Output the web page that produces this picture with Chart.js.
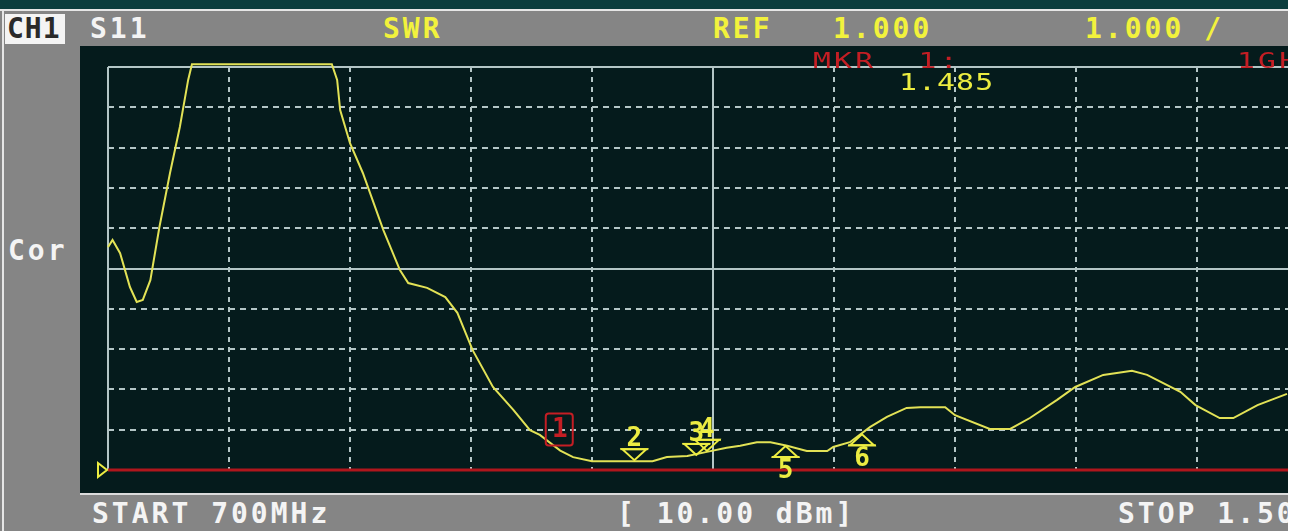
<!DOCTYPE html>
<html>
<head>
<meta charset="utf-8">
<script src="https://cdn.jsdelivr.net/npm/chart.js@4.4.0/dist/chart.umd.min.js"></script>
<style>
    body { margin: 0; width: 1295px; height: 531px; background: #fff; overflow: hidden; position: relative; }
    #screen { position: absolute; left: 0; top: 0; width: 1288px; height: 531px; background: #858585; overflow: hidden; }
    #topStrip { position: absolute; left: 0; top: 0; width: 1288px; height: 9px; background: #0b3d3d; }
    #topLine { position: absolute; left: 0; top: 9px; width: 1288px; height: 2px; background: #e6e6e6; }
    #leftLine { position: absolute; left: 2px; top: 11px; width: 2px; height: 520px; background: #e6e6e6; }
    #panel { position: absolute; left: 80px; top: 46px; width: 1208px; height: 447px; background: #051b1c; overflow: hidden; }
    #panel canvas { position: absolute; left: 0; top: 0; }
    #bottomLine { position: absolute; left: 80px; top: 493px; width: 1208px; height: 2px; background: #dcdcdc; }
    #chBox { position: absolute; left: 5px; top: 14px; width: 60px; height: 30px; background: #f4f4f4; }
    .t { position: absolute; font: bold 28px/28px "DejaVu Sans Mono", monospace; letter-spacing: 3px; white-space: pre; }
    .w { color: #f4f4f4; }
    .y { color: #f2f23c; }
    .mk { position: absolute; font: 22px/22px "DejaVu Sans Mono", monospace; letter-spacing: 2.4px; white-space: pre; transform: scaleX(1.35); transform-origin: left top; }
</style>
</head>
<body>
<div id="screen">
    <div id="topStrip"></div>
    <div id="topLine"></div>
    <div id="leftLine"></div>
    <div id="chBox"></div>
    <div class="t" style="left:7px;top:15px;color:#2a2a2a;letter-spacing:1px">CH1</div>
    <div class="t w" style="left:90px;top:15px">S11</div>
    <div class="t y" style="left:383px;top:15px">SWR</div>
    <div class="t y" style="left:713px;top:15px">REF</div>
    <div class="t y" style="left:833px;top:15px">1.000</div>
    <div class="t y" style="left:1085px;top:15px">1.000 /</div>
    <div class="t w" style="left:8px;top:237px">Cor</div>
    <div id="panel">
        <canvas id="swrChart" width="1260" height="447"></canvas>
        <div class="mk" style="left:733px;top:4px;color:#c41e24">MKR  1:</div>
        <div class="mk" style="left:819px;top:25px;color:#ecec40;font-size:23px;line-height:23px;letter-spacing:0.8px;transform:scaleX(1.3)">1.485</div>
        <div class="mk" style="left:1157px;top:4px;color:#c41e24">1GHz</div>
    </div>
    <div id="bottomLine"></div>
    <div class="t w" style="left:92px;top:500px">START 700MHz</div>
    <div class="t w" style="left:617px;top:500px">[ 10.00 dBm]</div>
    <div class="t w" style="left:1118px;top:500px">STOP 1.50GHz</div>
</div>
<script>
// trace (MHz, SWR)
const freqMHz = [700, 703, 708, 714.5, 719, 723, 728, 734, 741, 747.5,
    753, 755.5, 848, 851.5, 853.5, 860, 868.5, 882, 893, 898.5,
    911, 923, 931, 941, 954.5, 968, 979, 985.5, 999, 1007.5,
    1020, 1060, 1069.5, 1083, 1096, 1109, 1118, 1129, 1138, 1149,
    1162, 1175.5, 1179.5, 1190.5, 1204, 1215, 1228, 1237, 1253.5, 1260,
    1283, 1296.5, 1309.5, 1327.5, 1339.5, 1358, 1377, 1387, 1409, 1419,
    1435, 1444, 1460, 1479.5];
const swr = [6.53, 6.71, 6.38, 5.54, 5.17, 5.22, 5.71, 7.03, 8.37, 9.51,
    10.68, 11.07, 11.07, 10.68, 9.93, 9.11, 8.37, 6.96, 5.96, 5.64,
    5.52, 5.29, 4.90, 3.98, 3.06, 2.49, 1.99, 1.87, 1.48, 1.32,
    1.22, 1.22, 1.32, 1.35, 1.45, 1.55, 1.60, 1.69, 1.69, 1.60,
    1.47, 1.47, 1.57, 1.69, 2.07, 2.32, 2.54, 2.56, 2.56, 2.36,
    2.02, 2.02, 2.29, 2.74, 3.06, 3.36, 3.46, 3.36, 2.94, 2.61,
    2.29, 2.29, 2.61, 2.89];

// markers
const markerNames = ['1', '2', '3', '4', '5', '6'];
const markerFreq = [1000, 1048, 1089, 1096, 1148, 1198.5];
const markerSwr = [1.485, 1.22, 1.35, 1.45, 1.62, 1.91];
const markerStyle = ['box', 'down', 'down', 'down', 'up', 'up'];

// graticule: 80 MHz/div, 1.000/div, REF 1.000
const xTicks = [700, 780, 860, 940, 1020, 1100, 1180, 1260, 1340, 1420, 1500];
const yTicks = [1, 2, 3, 4, 5, 6, 7, 8, 9, 10, 11];
const REF_VALUE = 1;

const GRID_COLOR = '#b4c6c6';
const YELLOW = '#ecec42';
const RED = '#c41e24';

const graticule = {
    id: 'graticule',
    beforeDatasetsDraw(chart) {
        const { ctx, chartArea: a, scales: { x, y } } = chart;
        ctx.save();
        ctx.strokeStyle = GRID_COLOR;
        ctx.lineWidth = 2;
        xTicks.forEach((v, i) => {
            const px = Math.round(x.getPixelForValue(v));
            const solid = i === 0 || i === 5;
            ctx.setLineDash(solid ? [] : [5, 5]);
            ctx.beginPath();
            ctx.moveTo(px, a.top);
            ctx.lineTo(px, a.bottom);
            ctx.stroke();
        });
        yTicks.forEach((v, i) => {
            if (v === REF_VALUE) return;
            const py = Math.round(y.getPixelForValue(v));
            const solid = i === yTicks.length - 1 || i === 5;
            ctx.setLineDash(solid ? [] : [6, 5]);
            ctx.beginPath();
            ctx.moveTo(a.left, py);
            ctx.lineTo(a.right, py);
            ctx.stroke();
        });
        // reference line + reference arrow
        const ry = Math.round(y.getPixelForValue(REF_VALUE));
        ctx.setLineDash([]);
        ctx.strokeStyle = '#b0161c';
        ctx.lineWidth = 3;
        ctx.beginPath();
        ctx.moveTo(a.left, ry);
        ctx.lineTo(a.right, ry);
        ctx.stroke();
        ctx.strokeStyle = YELLOW;
        ctx.lineWidth = 2;
        ctx.beginPath();
        ctx.moveTo(a.left - 10, ry - 7);
        ctx.lineTo(a.left - 1, ry);
        ctx.lineTo(a.left - 10, ry + 7);
        ctx.closePath();
        ctx.stroke();
        ctx.restore();
    }
};

const markers = {
    id: 'markers',
    afterDatasetsDraw(chart) {
        const { ctx, scales: { x, y } } = chart;
        ctx.save();
        ctx.lineWidth = 2;
        ctx.textAlign = 'center';
        ctx.font = 'bold 26px "DejaVu Sans Mono", monospace';
        markerNames.forEach((name, i) => {
            const px = x.getPixelForValue(markerFreq[i]);
            const py = y.getPixelForValue(markerSwr[i]);
            const style = markerStyle[i];
            if (style === 'box') {
                ctx.strokeStyle = RED;
                ctx.fillStyle = RED;
                ctx.beginPath();
                ctx.roundRect(px - 16, py - 37, 27, 32, 3);
                ctx.stroke();
                ctx.textBaseline = 'middle';
                ctx.fillText(name, px - 2, py - 20);
                return;
            }
            ctx.strokeStyle = YELLOW;
            ctx.fillStyle = YELLOW;
            const dir = style === 'down' ? -1 : 1;
            ctx.beginPath();
            ctx.moveTo(px, py + dir);
            ctx.lineTo(px - 12, py + dir * 12);
            ctx.lineTo(px + 12, py + dir * 12);
            ctx.closePath();
            ctx.stroke();
            ctx.beginPath();
            ctx.moveTo(px - 14, py + dir * 12);
            ctx.lineTo(px + 14, py + dir * 12);
            ctx.stroke();
            if (style === 'down') {
                ctx.textBaseline = 'alphabetic';
                ctx.fillText(name, px, py - 15);
            } else {
                ctx.textBaseline = 'top';
                ctx.fillText(name, px, py + 13);
            }
        });
        ctx.restore();
    }
};

const chart = new Chart(document.getElementById('swrChart'), {
    type: 'line',
    data: {
        datasets: [{
            data: freqMHz.map((f, i) => ({ x: f, y: swr[i] })),
            borderColor: '#e2e256',
            borderWidth: 2,
            pointRadius: 0,
            tension: 0,
            clip: false
        }]
    },
    options: {
        responsive: false,
        animation: false,
        devicePixelRatio: 1,
        layout: { padding: { left: 28, top: 21, right: 22, bottom: 23 } },
        plugins: { legend: { display: false }, tooltip: { enabled: false } },
        scales: {
            x: { type: 'linear', min: xTicks[0], max: xTicks[xTicks.length - 1], display: false },
            y: { type: 'linear', min: yTicks[0], max: yTicks[yTicks.length - 1], display: false }
        }
    },
    plugins: [graticule, markers]
});
</script>
</body>
</html>
